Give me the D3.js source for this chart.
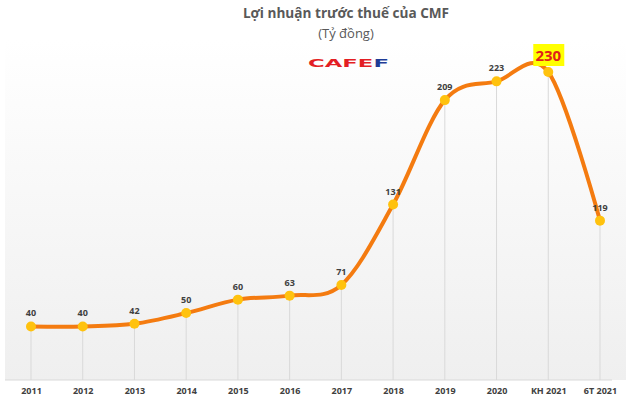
<!DOCTYPE html>
<html><head><meta charset="utf-8">
<script src="https://cdn.jsdelivr.net/npm/d3@7"></script>
<style>body{margin:0;background:#fff}svg{display:block}</style>
</head><body>
<svg id="c" width="640" height="405"></svg>
<script>
const categories = ["2011","2012","2013","2014","2015","2016","2017","2018","2019","2020","KH 2021","6T 2021"];
const values = [40,40,42,50,60,63,71,131,209,223,230,119];
const highlightIndex = 10;

const svg = d3.select("#c");
const plot = {left: 5, right: 626, top: 40, bottom: 380};
const data = values.map((v,i)=>({cat: categories[i], v, i}));

const defs = svg.append("defs");
const g = defs.append("linearGradient").attr("id","bg").attr("x1",0).attr("y1",0).attr("x2",0).attr("y2",1);
g.append("stop").attr("offset","0%").attr("stop-color","#ffffff");
g.append("stop").attr("offset","100%").attr("stop-color","#efefef");

svg.append("rect").attr("x",plot.left).attr("y",plot.top).attr("width",plot.right-plot.left).attr("height",plot.bottom-plot.top).attr("fill","url(#bg)");

const x = d3.scalePoint().domain(categories).range([31, 600]);
const y = d3.scaleLinear().domain([0, 230]).range([plot.bottom, 72]);

// vertical drop lines
svg.append("g").selectAll("line").data(data).join("line")
  .attr("x1",d=>x(d.cat)).attr("x2",d=>x(d.cat))
  .attr("y1",d=>y(d.v)).attr("y2",plot.bottom)
  .attr("stroke","#d9d9d9").attr("stroke-width",1);

// baseline axis
const xAxis = d3.axisBottom(x).tickSize(0).tickPadding(8);
const ax = svg.append("g").attr("transform",`translate(0,${plot.bottom})`).call(xAxis);
ax.select(".domain").attr("d",`M${plot.left},0H612`).attr("stroke","#d9d9d9");
ax.selectAll("text").attr("font-family","'Open Sans', sans-serif").attr("font-size",9).attr("font-weight","bold").attr("fill","#404040");

// line
const line = d3.line().x(d=>x(d.cat)).y(d=>y(d.v)).curve(d3.curveCatmullRom.alpha(0));
svg.append("path").datum(data).attr("d",line).attr("fill","none").attr("stroke","#F47B10").attr("stroke-width",4).attr("stroke-linecap","round");

// dots
svg.append("g").selectAll("circle").data(data).join("circle")
  .attr("cx",d=>x(d.cat)).attr("cy",d=>y(d.v)).attr("r",5).attr("fill","#FFC20E");

// labels
svg.append("g").selectAll("text").data(data.filter(d=>d.i!==highlightIndex)).join("text")
  .attr("x",d=>x(d.cat))
  .attr("y",d=>y(d.v)-10)
  .attr("text-anchor","middle").attr("font-family","'Open Sans', sans-serif").attr("font-size",9).attr("font-weight","bold").attr("fill","#404040")
  .text(d=>d.v);

// highlight label
const hd = data[highlightIndex];
const hx = x(hd.cat), hy = y(hd.v);
svg.append("rect").attr("x",hx-15).attr("y",hy-28).attr("width",31).attr("height",22).attr("fill","#FFFF00");
svg.append("text").attr("x",hx).attr("y",hy-11).attr("text-anchor","middle")
  .attr("font-family","'Open Sans', sans-serif").attr("font-size",15).attr("font-weight","bold").attr("fill","#E0201B").text(hd.v);

// title
svg.append("text").attr("x",346).attr("y",18).attr("text-anchor","middle").attr("font-family","'Open Sans', sans-serif").attr("font-size",13.6).attr("font-weight","bold").attr("fill","#595959").text("Lợi nhuận trước thuế của CMF");
svg.append("text").attr("x",346).attr("y",38).attr("text-anchor","middle").attr("font-family","'Open Sans', sans-serif").attr("font-size",13).attr("fill","#595959").text("(Tỷ đồng)");
// logo
const logo = svg.append("text").attr("x",308).attr("y",67).attr("font-family","'DejaVu Sans', sans-serif").attr("font-size",11).attr("font-weight","bold")
  .attr("textLength",81).attr("lengthAdjust","spacingAndGlyphs");
logo.append("tspan").attr("fill","#E31E24").text("CAFE");
logo.append("tspan").attr("fill","#1F3C96").text("F");
</script>
</body></html>
